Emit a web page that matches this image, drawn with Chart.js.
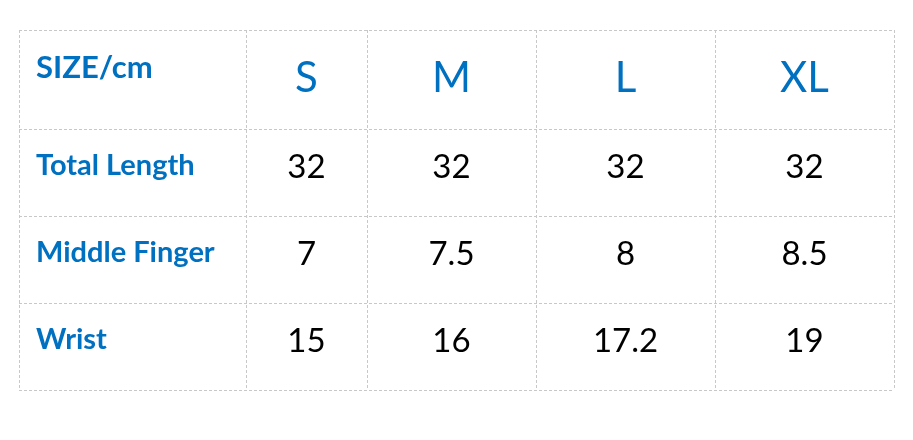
<!DOCTYPE html>
<html>
<head>
<meta charset="utf-8">
<script src="https://cdn.jsdelivr.net/npm/chart.js@4.4.1/dist/chart.umd.min.js"></script>
<style>
  html, body { margin: 0; padding: 0; background: #ffffff; }
  #wrap { width: 913px; height: 440px; }
</style>
</head>
<body>
<div id="wrap"><canvas id="c"></canvas></div>
<script>
// ---- data ----
const headerLabel = 'SIZE/cm';
const sizes = ['S', 'M', 'L', 'XL'];
const rowLabels = ['Total Length', 'Middle Finger', 'Wrist'];
const totalLength = [32, 32, 32, 32];
const middleFinger = [7, 7.5, 8, 8.5];
const wrist = [15, 16, 17.2, 19];
const rowValues = [totalLength, middleFinger, wrist];

// ---- layout (column / row widths in table units) ----
const colWidths = [227, 121, 169, 179, 179];
const rowHeights = [99, 87, 87, 87];
const colEdges = colWidths.reduce((a, w) => { a.push(a[a.length - 1] + w); return a; }, [0]);
const rowEdges = rowHeights.reduce((a, h) => { a.push(a[a.length - 1] + h); return a; }, [0]);

const BLUE = '#0070c0';
const FONT = 'Lato, "Open Sans", sans-serif';

// cell points (one per value) for the dataset
const points = [];
rowValues.forEach((vals, r) => vals.forEach((v, c) => {
  points.push({ x: (colEdges[c + 1] + colEdges[c + 2]) / 2, y: (rowEdges[r + 1] + rowEdges[r + 2]) / 2, v: v });
}));

const tableText = {
  id: 'tableText',
  afterDatasetsDraw(chart) {
    const { ctx, scales: { x, y } } = chart;
    const cx = c => x.getPixelForValue((colEdges[c] + colEdges[c + 1]) / 2);
    const cy = r => y.getPixelForValue((rowEdges[r] + rowEdges[r + 1]) / 2);
    const left = x.getPixelForValue(colEdges[0]) + 17;
    ctx.save();
    ctx.textBaseline = 'alphabetic';
    // header row
    ctx.fillStyle = BLUE;
    ctx.textAlign = 'left';
    ctx.font = 'bold 31px ' + FONT;
    ctx.fillText(headerLabel, left, cy(0) - 1.5);
    ctx.textAlign = 'center';
    ctx.font = '42px ' + FONT;
    sizes.forEach((s, i) => ctx.fillText(s, cx(i + 1), cy(0) + 12.5));
    // body rows
    rowLabels.forEach((lab, r) => {
      ctx.fillStyle = BLUE;
      ctx.textAlign = 'left';
      ctx.font = 'bold 29px ' + FONT;
      ctx.fillText(lab, left, cy(r + 1) + 2.5);
    });
    const ds = chart.data.datasets[0].data;
    ctx.fillStyle = '#000000';
    ctx.textAlign = 'center';
    ctx.font = '33px ' + FONT;
    ds.forEach(p => {
      ctx.fillText(String(p.v), x.getPixelForValue(p.x), y.getPixelForValue(p.y) + 5.5);
    });
    ctx.restore();
  }
};

new Chart(document.getElementById('c'), {
  type: 'scatter',
  data: {
    datasets: [{
      data: points,
      pointRadius: 0,
      pointHoverRadius: 0,
      showLine: false
    }]
  },
  options: {
    responsive: true,
    maintainAspectRatio: false,
    animation: false,
    events: [],
    layout: { padding: { left: 19, right: 19, top: 30, bottom: 50 } },
    plugins: { legend: { display: false }, tooltip: { enabled: false } },
    scales: {
      x: {
        type: 'linear',
        min: colEdges[0],
        max: colEdges[colEdges.length - 1],
        afterBuildTicks: s => { s.ticks = colEdges.map(v => ({ value: v })); },
        ticks: { display: false },
        grid: { color: '#c8c8c8', lineWidth: 1, drawTicks: false },
        border: { display: false, dash: [3, 2] }
      },
      y: {
        type: 'linear',
        reverse: true,
        min: rowEdges[0],
        max: rowEdges[rowEdges.length - 1],
        afterBuildTicks: s => { s.ticks = rowEdges.map(v => ({ value: v })); },
        ticks: { display: false },
        grid: { color: '#c8c8c8', lineWidth: 1, drawTicks: false },
        border: { display: false, dash: [3, 2] }
      }
    }
  },
  plugins: [tableText]
});
</script>
</body>
</html>
